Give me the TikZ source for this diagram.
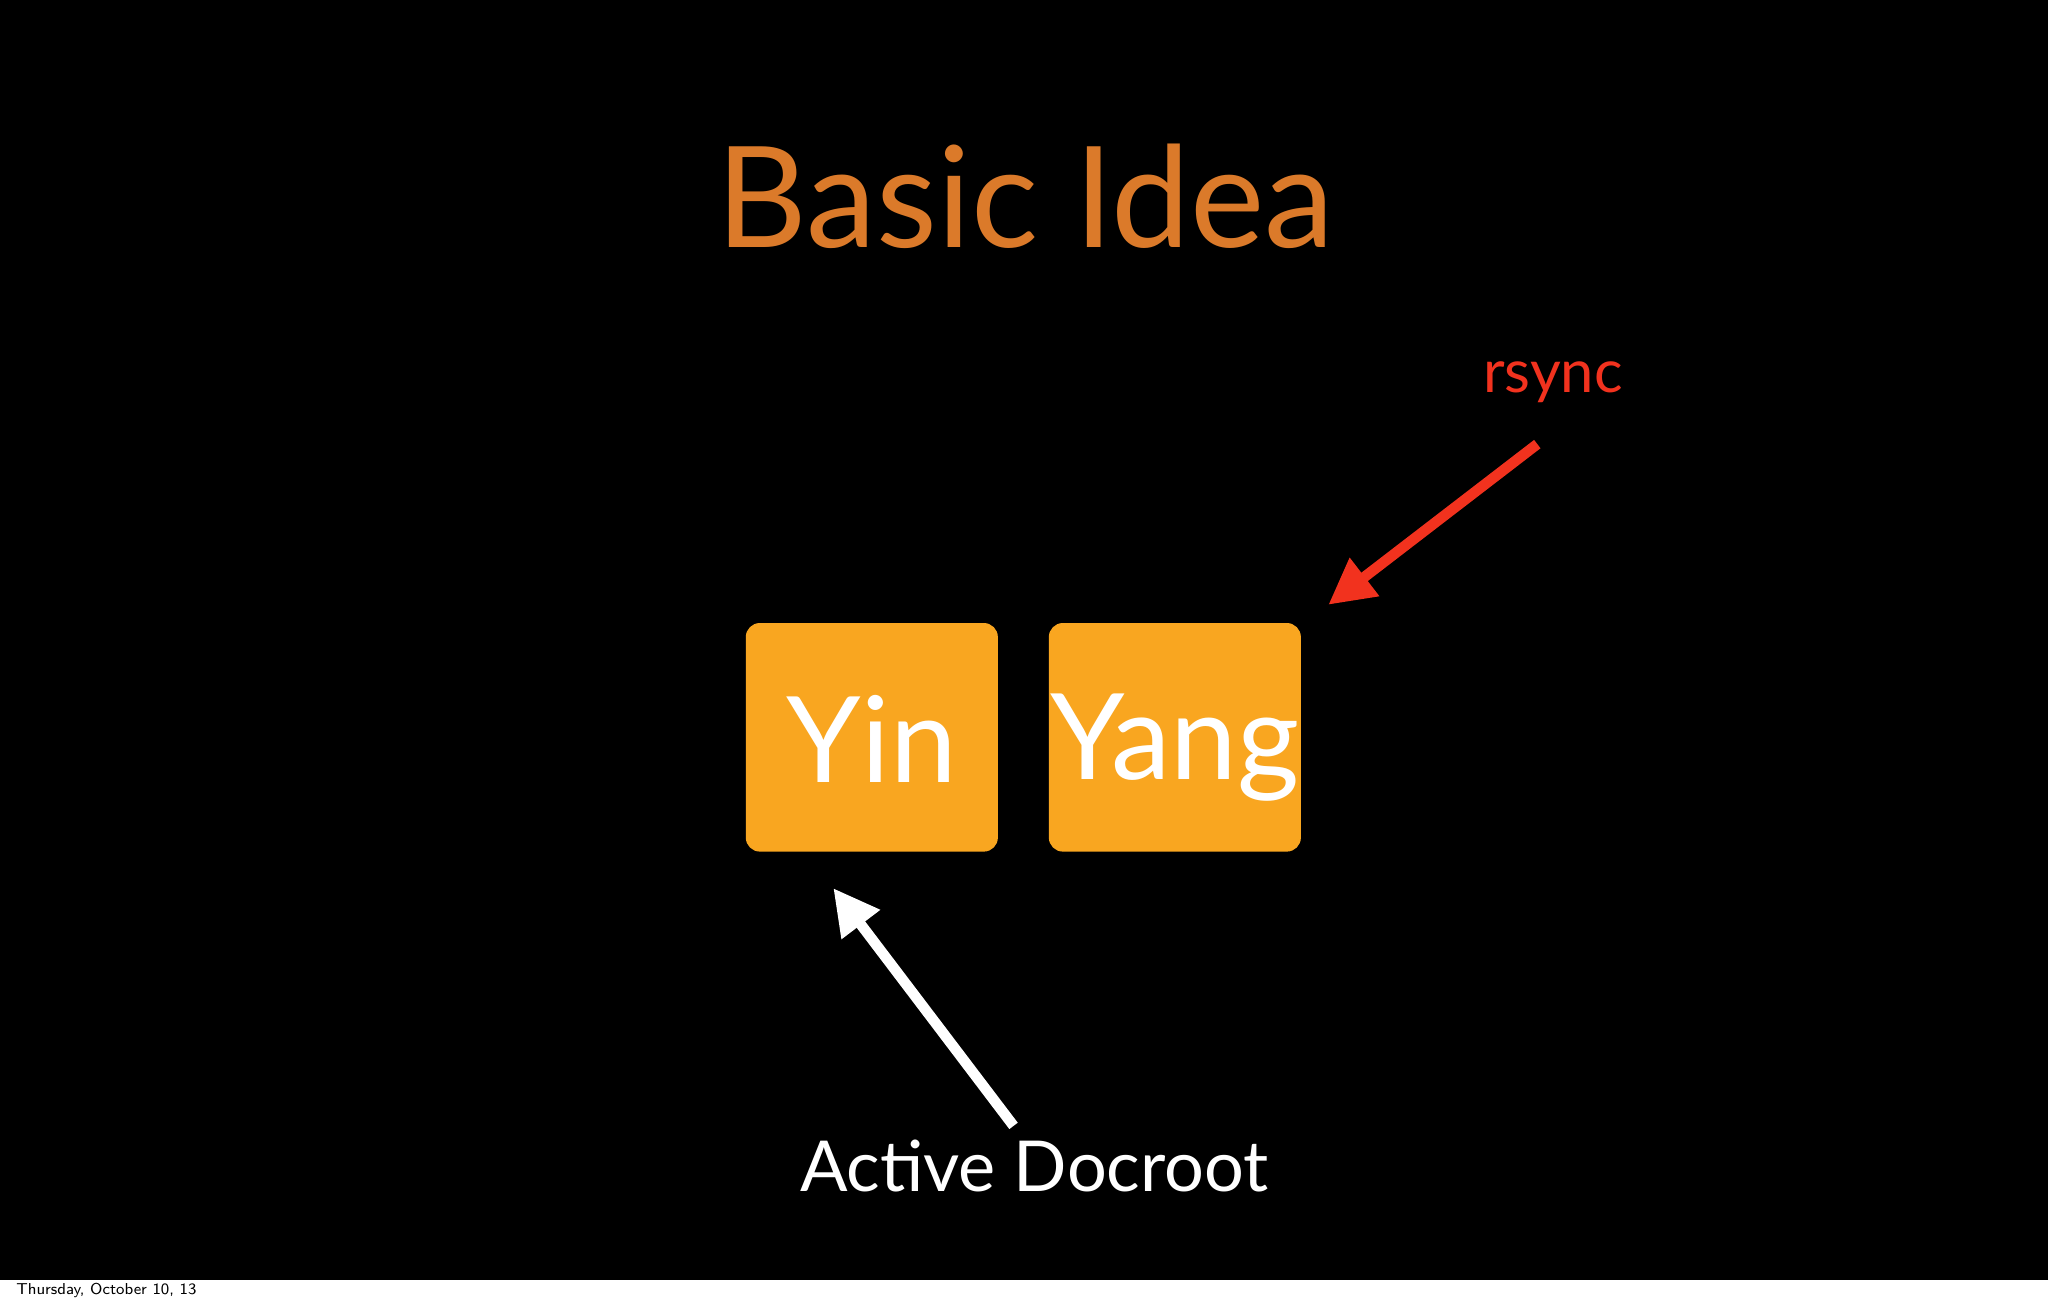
\documentclass[tikz,border=0pt]{standalone}
\usepackage{fontspec}
\setmainfont{Lato}
\usetikzlibrary{arrows.meta}
\definecolor{titleor}{HTML}{DB7A2A}
\definecolor{boxor}{HTML}{F9A620}
\definecolor{rred}{HTML}{F2321E}
\tikzset{
  ybox/.style={fill=boxor,rounded corners=4pt,draw=none},
  btxt/.style={text=white,font=\fontsize{34}{40}\selectfont},
  arr/.style={line width=3pt,-{Triangle[length=13pt,width=13pt]}}
}
\begin{document}
\begin{tikzpicture}[x=0.01306cm,y=-0.01306cm]
\useasboundingbox (0,0) rectangle (1568,998);
\fill[black] (0,0) rectangle (1568,980);
\fill[white] (0,980) rectangle (1568,998);
\node[font=\fontsize{4.5}{5}\selectfont\sffamily,anchor=west] (foot) at (3,988) {Thursday, October 10, 13};
\node[text=titleor,font=\fontsize{40}{46}\selectfont] (title) at (785,150) {Basic Idea};
\fill[ybox] (571,477) rectangle (764,652);
\fill[ybox] (803,477) rectangle (996,652);
\node[btxt] (yin) at (667.5,566) {Yin};
\node[btxt] (yang) at (899.5,572) {Yang};
\node[text=rred,font=\fontsize{17}{20}\selectfont] (rsync) at (1189,293) {rsync};
\node[text=white,font=\fontsize{20}{24}\selectfont] (act) at (792,893) {Active Docroot};
\coordinate (r1) at (1177,340);
\coordinate (r2) at (1017,463);
\coordinate (w1) at (776,862);
\coordinate (w2) at (638,680);
\draw[arr,draw=rred,fill=rred] (r1) -- (r2);
\draw[arr,draw=white,fill=white] (w1) -- (w2);
\end{tikzpicture}
\end{document}
